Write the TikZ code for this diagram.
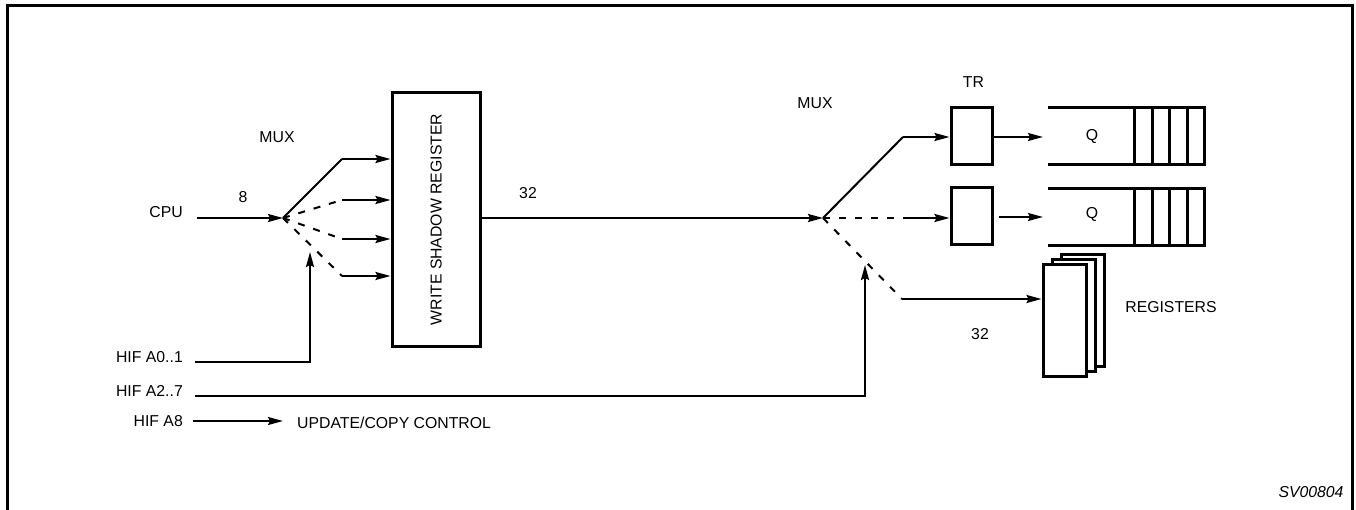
\documentclass[tikz,border=0pt]{standalone}
\usepackage{fontspec}
\setmainfont{Liberation Sans}
\usetikzlibrary{arrows, arrows.meta}
\usetikzlibrary{calc}

\tikzset{
  lbl/.style={inner sep=0pt, text depth=0pt, font=\fontsize{15.8}{19}\selectfont},
  wire/.style={line width=2pt},
  arr/.style={wire, -{Stealth[length=15pt, width=8pt, inset=2pt]}},
  sel/.style={wire, dash pattern=on 7pt off 9pt},
  boxline/.style={line width=3pt},
  regbox/.style={draw, boxline, fill=white, minimum width=43pt, minimum height=111pt, inner sep=0pt}
}

\begin{document}
\begin{tikzpicture}[x=1pt, y=-1pt]
  \useasboundingbox (0,0) rectangle (1356,510);
  \draw[boxline] (7,510) |- (1352,6) -- (1352,510);

  % input side
  \node[lbl, anchor=base east] (cpu) at (183,218) {CPU};
  \node[lbl] (n8) at (243,197) {8};
  \node[lbl] (mux1) at (277,137) {MUX};
  \coordinate (m1) at (283,218);
  \coordinate (m1a) at (342,159);
  \coordinate (m1b) at (342,200);
  \coordinate (m1c) at (342,239);
  \coordinate (m1d) at (342,276);

  \node[draw, boxline, minimum width=88pt, minimum height=253pt] (wsr) at (436,219.5) {};
  \node[lbl, rotate=90] (wsrtext) at (wsr.center) {WRITE SHADOW REGISTER};

  \draw[arr] ([xshift=14pt]cpu.base east) -- (m1);
  \draw[wire] (m1) -- (m1a);
  \draw[sel] (m1) -- (m1b);
  \draw[sel] (m1) -- (m1c);
  \draw[sel] (m1) -- (m1d);
  \foreach \m in {m1a, m1b, m1c, m1d}
    \draw[arr] (\m) -- (\m -| wsr.west);

  % control inputs
  \node[lbl, anchor=base east] (hif1) at (183,362) {HIF A0..1};
  \node[lbl, anchor=base east] (hif2) at (183,396) {HIF A2..7};
  \node[lbl, anchor=east] (hif3) at (183,421) {HIF A8};
  \node[lbl, anchor=west] (upd) at (297,423) {UPDATE/COPY CONTROL};
  \coordinate (s1) at (310,252);
  \coordinate (s2) at (865,265);
  \draw[arr, shorten <=12pt] (hif1.base east) -| (s1);
  \draw[arr, shorten <=12pt] (hif2.base east) -| (s2);
  \draw[arr, shorten <=10pt, shorten >=14pt] (hif3.east) -- (hif3.east -| upd.west);

  % output side
  \coordinate (m2) at (823,218);
  \coordinate (m2a) at (903,137);
  \coordinate (m2b) at (903,218);
  \coordinate (m2c) at (902,299);
  \node[lbl] (n32a) at (528,193) {32};
  \node[lbl] (mux2) at (815,103) {MUX};
  \draw[arr] (wsr.east |- m2) -- (m2);

  \node[draw, boxline, minimum width=41pt, minimum height=57pt] (tr1) at (971.5,136.5) {};
  \node[draw, boxline, minimum width=41pt, minimum height=57pt] (tr2) at (971.5,216) {};
  \node[lbl] (trlbl) at (973.5,82) {TR};

  \draw[wire] (m2) -- (m2a);
  \draw[sel] (m2) -- (m2b);
  \draw[sel] (m2) -- (m2c);
  \draw[arr] (m2a) -- (m2a -| tr1.west);
  \draw[arr] (m2b) -- (m2b -| tr2.west);

  % queues
  \foreach \qy in {108,189} {
    \draw[boxline] (1048,\qy) -| (1204,\qy+57) -- (1048,\qy+57);
    \foreach \cx in {1134,1152,1169,1187}
      \draw[boxline] (\cx,\qy) -- (\cx,\qy+57);
  }
  \node[lbl] (q1) at (1092,135) {Q};
  \node[lbl] (q2) at (1092,213) {Q};
  \coordinate (q1in) at (1043,137);
  \coordinate (q2in) at (1043,217);
  \draw[arr] (tr1.east |- q1in) -- (q1in);
  \draw[arr, shorten <=5pt] (tr2.east |- q2in) -- (q2in);

  % registers
  \node[regbox] (reg3) at (1082.5,310.5) {};
  \node[regbox] (reg2) at (1073.5,315.5) {};
  \node[regbox] (reg1) at (1064.5,320.5) {};
  \node[lbl] (reglbl) at (1171,307) {REGISTERS};
  \node[lbl] (n32b) at (980,334) {32};
  \draw[arr] (m2c) -- (m2c -| reg1.west);

  \node[lbl, font=\fontsize{15.8}{19}\selectfont\itshape] (sv) at (1311,492) {SV00804};
\end{tikzpicture}
\end{document}
